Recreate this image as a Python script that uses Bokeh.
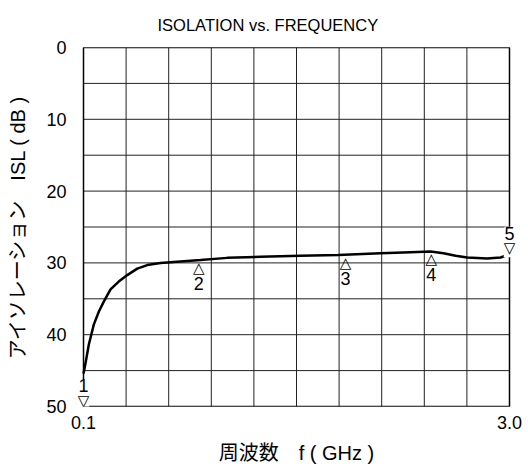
import numpy as np
from bokeh.plotting import figure
from bokeh.models import Range1d, FixedTicker, ColumnDataSource, LabelSet
from bokeh.core.properties import value
from bokeh.embed import file_html
from bokeh.resources import INLINE

# ---- data ----
freq_ghz = [0.100, 0.108, 0.116, 0.136, 0.170, 0.204, 0.238, 0.284, 0.340, 0.398,
            0.466, 0.534, 0.624, 0.760, 0.897, 1.078, 1.305, 1.577, 1.834, 2.122,
            2.326, 2.462, 2.551, 2.633, 2.712, 2.848, 2.939, 3.000]
isl_db = [45.4, 44.6, 43.7, 41.4, 38.6, 36.8, 35.4, 33.7, 32.6, 31.7,
          30.8, 30.3, 30.0, 29.8, 29.6, 29.3, 29.15, 29.0, 28.9, 28.65,
          28.5, 28.4, 28.65, 29.0, 29.25, 29.4, 29.25, 28.8]

marker_num = ["1", "2", "3", "4", "5"]
marker_freq = [0.1, 0.885, 1.883, 2.467, 3.0]
marker_isl = [50.0, 29.6, 28.9, 28.4, 28.8]
marker_dir = ["down", "up", "up", "up", "down"]

x_min, x_max = 0.1, 3.0
y_top, y_bottom = 0, 50
x_tick_vals = [0.1, 3.0]
x_tick_labels = ["0.1", "3.0"]
y_tick_vals = [0, 10, 20, 30, 40, 50]

title_text = "ISOLATION vs. FREQUENCY"
x_label = "周波数\u3000f ( GHz )"
y_label = "アイソレーション\u3000ISL ( dB )"

FONT = "Liberation Sans, Noto Sans CJK JP"

# ---- layout ----
GRID_W, GRID_H = 426, 359      # grid box size in px
PAD = 8                        # room left/right so edge markers are not clipped
pad_x = PAD * (x_max - x_min) / GRID_W

p = figure(frame_width=GRID_W + 2 * PAD, frame_height=GRID_H,
           output_backend="svg", toolbar_location=None,
           x_range=Range1d(x_min - pad_x, x_max + pad_x),
           y_range=Range1d(y_bottom, y_top),
           min_border_left=75, min_border_right=11, min_border_top=46,
           min_border_bottom=63, title=title_text)

p.title.text_font = FONT
p.title.text_font_size = "16.5px"
p.title.text_font_style = "normal"
p.title.text_color = "black"
p.title.align = "left"
p.title.offset = 82
p.title.standoff = 27

p.xgrid.visible = False
p.ygrid.visible = False
p.outline_line_color = None

# grid: 10 x 10 divisions, drawn inside the box only
gx = np.linspace(x_min, x_max, 11)
gy = np.linspace(y_top, y_bottom, 11)
p.segment(x0=gx, y0=y_top, x1=gx, y1=y_bottom, line_color="#222222", line_width=1)
p.segment(x0=x_min, y0=gy, x1=x_max, y1=gy, line_color="#222222", line_width=1)
p.quad(left=x_min, right=x_max, top=y_top, bottom=y_bottom,
       fill_color=None, line_color="black", line_width=1.5)

p.xaxis.ticker = FixedTicker(ticks=x_tick_vals)
p.xaxis.major_label_overrides = dict(zip(x_tick_vals, x_tick_labels))
p.yaxis.ticker = FixedTicker(ticks=y_tick_vals)
for ax in (p.xaxis, p.yaxis):
    ax.axis_line_color = None
    ax.major_tick_line_color = None
    ax.minor_tick_line_color = None
    ax.major_label_text_font = FONT
    ax.major_label_text_font_size = "18px"
    ax.major_label_text_color = "black"
    ax.axis_label_text_font = FONT
    ax.axis_label_text_font_size = "20px"
    ax.axis_label_text_font_style = "normal"
    ax.axis_label_text_color = "black"
p.xaxis.axis_label = x_label
p.yaxis.axis_label = y_label
p.xaxis.major_label_standoff = 3
p.yaxis.major_label_standoff = 3
p.xaxis.axis_label_standoff = 10
p.yaxis.axis_label_standoff = 14

p.line(freq_ghz, isl_db, line_width=2.5, line_color="black")

# markers
down = [i for i, d in enumerate(marker_dir) if d == "down"]
up = [i for i, d in enumerate(marker_dir) if d == "up"]

def src(idx, tri):
    return ColumnDataSource(dict(
        x=[marker_freq[i] for i in idx],
        y=[marker_isl[i] for i in idx],
        num=[marker_num[i] for i in idx],
        tri=[tri for _ in idx]))

s_down = src(down, "\u25BD")
s_up = src(up, "\u25B3")

common = dict(x="x", y="y", text_align="center", text_baseline="middle",
              text_color="black")
tri_down = LabelSet(source=s_down, text="tri", y_offset=6,
                    text_font=value("DejaVu Sans"), text_font_size="15px",
                    background_fill_color="white", **common)
tri_up = LabelSet(source=s_up, text="tri", y_offset=-8,
                  text_font=value("DejaVu Sans"), text_font_size="15px", **common)
num_down = LabelSet(source=s_down, text="num", y_offset=21,
                    text_font=value("Liberation Sans"), text_font_size="18px",
                    background_fill_color="white", **common)
num_up = LabelSet(source=s_up, text="num", y_offset=-23,
                  text_font=value("Liberation Sans"), text_font_size="18px",
                  background_fill_color="white", **common)
for r in (tri_down, num_down, tri_up, num_up):
    p.add_layout(r)

open("out.html", "w").write(file_html(p, INLINE))
